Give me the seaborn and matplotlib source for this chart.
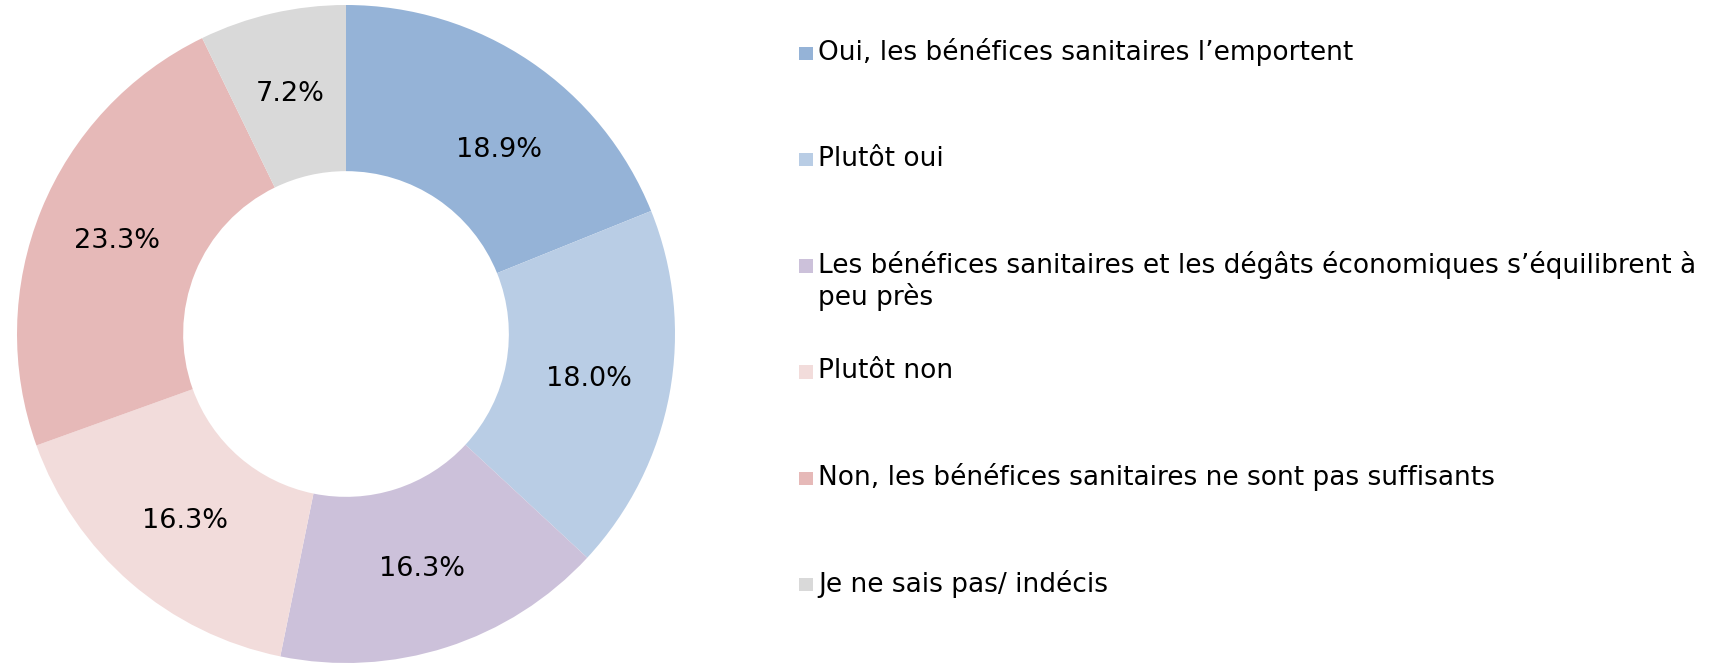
import matplotlib
matplotlib.use("Agg")
import matplotlib.pyplot as plt
import seaborn as sns
from matplotlib.patches import Rectangle

# data
categories = [
    "Oui, les bénéfices sanitaires l\u2019emportent",
    "Plutôt oui",
    "Les bénéfices sanitaires et les dégâts économiques s\u2019équilibrent à\npeu près",
    "Plutôt non",
    "Non, les bénéfices sanitaires ne sont pas suffisants",
    "Je ne sais pas/ indécis",
]
shares = [18.9, 18.0, 16.3, 16.3, 23.3, 7.2]
colors = ["#95B3D7", "#B9CDE5", "#CCC1DA", "#F2DCDB", "#E6B9B8", "#D9D9D9"]

sns.set_theme(style="white", context="notebook")
plt.rcParams["font.family"] = ["DejaVu Sans"]
palette = sns.color_palette(colors)

W, H = 1713, 664
fig = plt.figure(figsize=(W / 100, H / 100), dpi=100)

# donut
ax = fig.add_axes([17 / W, 1 / H, 658 / W, 658 / H])
wedges, _, autotexts = ax.pie(
    shares,
    colors=palette,
    startangle=90,
    counterclock=False,
    autopct="%1.1f%%",
    pctdistance=0.75,
    wedgeprops=dict(width=0.505, linewidth=0),
    textprops=dict(fontsize=19.5, color="black"),
)
# Excel nudged the first label a little lower/right than the wedge middle
autotexts[0].set_position((0.465, 0.56))
ax.set_xlim(-1, 1)
ax.set_ylim(-1, 1)
ax.set_aspect("equal")
ax.axis("off")

# legend, one row per category with equal spacing of first lines
x_box, x_txt = 799 / W, 818 / W
y0, step, line_h = 52.5, 106.2, 32.5
box = 13.5
for i, (lab, col) in enumerate(zip(categories, palette)):
    yc = y0 + i * step
    fig.patches.append(
        Rectangle((x_box, 1 - (yc + box / 2 + 1) / H), box / W, box / H,
                  transform=fig.transFigure, facecolor=col, edgecolor="none")
    )
    for k, line in enumerate(lab.split("\n")):
        fig.text(x_txt, 1 - (yc + k * line_h) / H, line, fontsize=19,
                 va="center", ha="left", color="black")

fig.savefig("out.png", dpi=100, facecolor="white")
